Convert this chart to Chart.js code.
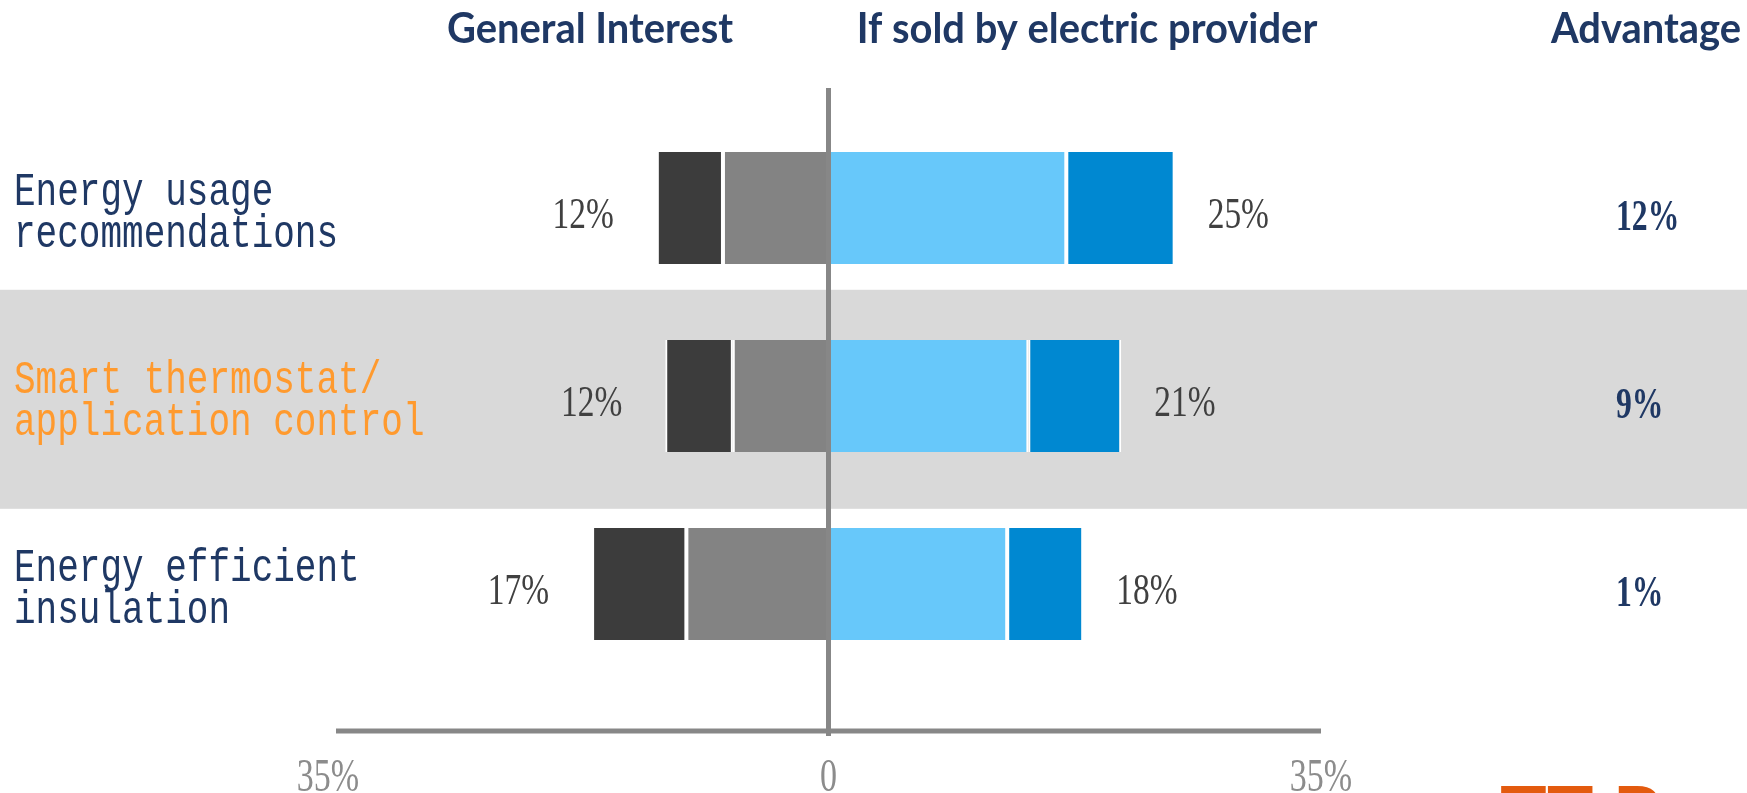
<!DOCTYPE html>
<html>
<head>
<meta charset="utf-8">
<title>Energy services interest</title>
<script src="https://cdn.jsdelivr.net/npm/chart.js@4.4.1/dist/chart.umd.min.js"></script>
<style>
    html, body { margin: 0; padding: 0; background: #ffffff; }
    #ControlInterestChart { display: block; }
</style>
</head>
<body>
<canvas id="ControlInterestChart" width="1747" height="793"></canvas>
<script>
var categories = [
    ['Energy usage', 'recommendations'],
    ['Smart thermostat/', 'application control'],
    ['Energy efficient', 'insulation']
];
var columnTitles = ['General Interest', 'If sold by electric provider', 'Advantage'];

// general interest, two shades (inner = next to the axis)
var generalInner = [7.5, 6.8, 10.1];
var generalOuter = [4.7, 4.8, 6.7];

// interest if sold by the electric provider
var providerInner = [16.9, 14.2, 12.7];
var providerOuter = [7.7, 6.6, 5.4];

var tickValues = [-35, 0, 35];
var tickLabels = ['35%', '0', '35%'];

var highlightRow = 1;

var interestChart = {

    initialize: function () {

        var generalTotal = interestChart.sum(generalInner, generalOuter);
        var providerTotal = interestChart.sum(providerInner, providerOuter);

        var ctx = document.getElementById('ControlInterestChart').getContext('2d');
        var myBarChart = new Chart(ctx, {
            type: 'bar',
            data: {
                labels: categories,
                datasets: [
                    interestChart.dataset('General', generalInner.map(function (v) { return -v; }), '#838383'),
                    interestChart.dataset('General top', generalOuter.map(function (v) { return -v; }), '#3C3C3C'),
                    interestChart.dataset('Provider', providerInner, '#67C8FA'),
                    interestChart.dataset('Provider top', providerOuter, '#0088D1')
                ]
            },
            options: {
                indexAxis: 'y',
                responsive: false,
                animation: false,
                layout: {
                    padding: { left: 336, right: 426, top: 114, bottom: 115 }
                },
                scales: {
                    x: { stacked: true, min: -35, max: 35, display: false },
                    y: { stacked: true, display: false }
                },
                plugins: {
                    legend: { display: false },
                    tooltip: { enabled: false }
                }
            },
            plugins: [{
                id: 'rowBand',
                beforeDatasetsDraw: function (chart) {
                    var c = chart.ctx;
                    var yScale = chart.scales.y;
                    var step = yScale.getPixelForValue(1) - yScale.getPixelForValue(0);
                    var cy = yScale.getPixelForValue(highlightRow);
                    c.save();
                    c.fillStyle = '#D9D9D9';
                    c.fillRect(0, cy - step * 0.565, chart.width, step * 1.165);
                    c.restore();
                },
                afterDatasetsDraw: function (chart) {
                    var c = chart.ctx;
                    var area = chart.chartArea;
                    var xScale = chart.scales.x;
                    var x0 = xScale.getPixelForValue(0);
                    var axisY = area.bottom + 53;

                    c.save();
                    c.strokeStyle = '#878787';
                    c.lineWidth = 5;
                    c.beginPath();
                    c.moveTo(x0, area.top - 26);
                    c.lineTo(x0, area.bottom + 58);
                    c.stroke();
                    c.beginPath();
                    c.moveTo(xScale.getPixelForValue(tickValues[0]), axisY);
                    c.lineTo(xScale.getPixelForValue(tickValues[tickValues.length - 1]), axisY);
                    c.stroke();
                    c.restore();

                    // outer tick labels sit a little outside the axis ends
                    for (var t = 0; t < tickValues.length; t++) {
                        var shift = tickValues[t] < 0 ? -8 : 0;
                        interestChart.drawText(c, tickLabels[t], xScale.getPixelForValue(tickValues[t]) + shift, axisY + 60,
                            "46px 'Liberation Serif'", '#8C8C8C', 'center', 0.74);
                    }
                },
                afterDraw: function (chart) {
                    var c = chart.ctx;
                    var xScale = chart.scales.x;
                    var yScale = chart.scales.y;

                    // column headers
                    var headerX = [590, 1087, 1646];
                    for (var h = 0; h < columnTitles.length; h++) {
                        interestChart.drawText(c, columnTitles[h], headerX[h], 43,
                            "bold 42px Lato", '#1F3864', 'center', 0.95);
                    }

                    for (var i = 0; i < categories.length; i++) {
                        var cy = yScale.getPixelForValue(i);
                        var color = i === highlightRow ? '#FF9A2E' : '#1F3864';

                        // category name, two lines
                        interestChart.drawText(c, categories[i][0], 14, cy - 3, "47px 'Liberation Mono'", color, 'left', 0.766);
                        interestChart.drawText(c, categories[i][1], 14, cy + 39, "47px 'Liberation Mono'", color, 'left', 0.766);

                        // totals either side of the axis
                        var gx = xScale.getPixelForValue(-generalTotal[i]);
                        var px = xScale.getPixelForValue(providerTotal[i]);
                        interestChart.drawText(c, Math.round(generalTotal[i]) + '%', gx - 43, cy + 20,
                            "44px 'Liberation Serif'", '#404040', 'right', 0.76);
                        interestChart.drawText(c, Math.round(providerTotal[i]) + '%', px + 33, cy + 20,
                            "44px 'Liberation Serif'", '#404040', 'left', 0.76);

                        // advantage column
                        var adv = Math.round(providerTotal[i] - generalTotal[i]);
                        interestChart.drawText(c, adv + '%', 1616, cy + 22,
                            "bold 44px 'Liberation Serif'", '#1F3864', 'left', 0.72);
                    }

                    // logo peeking in at the bottom corner
                    interestChart.drawText(c, 'TT P', 1500, 843, "bold 78px Lato", '#E35A0E', 'left', 1);
                }
            }]
        });
    },

    dataset: function (label, values, color) {
        return {
            label: label,
            data: values,
            backgroundColor: color,
            borderColor: '#ffffff',
            borderWidth: { left: 2, right: 2, top: 0, bottom: 0 },
            borderSkipped: false,
            categoryPercentage: 1,
            barPercentage: 0.596
        };
    },

    sum: function (a, b) {
        return a.map(function (v, i) { return v + b[i]; });
    },

    drawText: function (c, text, x, y, font, color, align, sx) {
        c.save();
        c.font = font;
        c.fillStyle = color;
        c.textAlign = align;
        c.textBaseline = 'alphabetic';
        c.translate(x, y);
        c.scale(sx, 1);
        c.fillText(text, 0, 0);
        c.restore();
    }
};

window.addEventListener('load', function () {
    interestChart.initialize();
});
</script>
</body>
</html>
